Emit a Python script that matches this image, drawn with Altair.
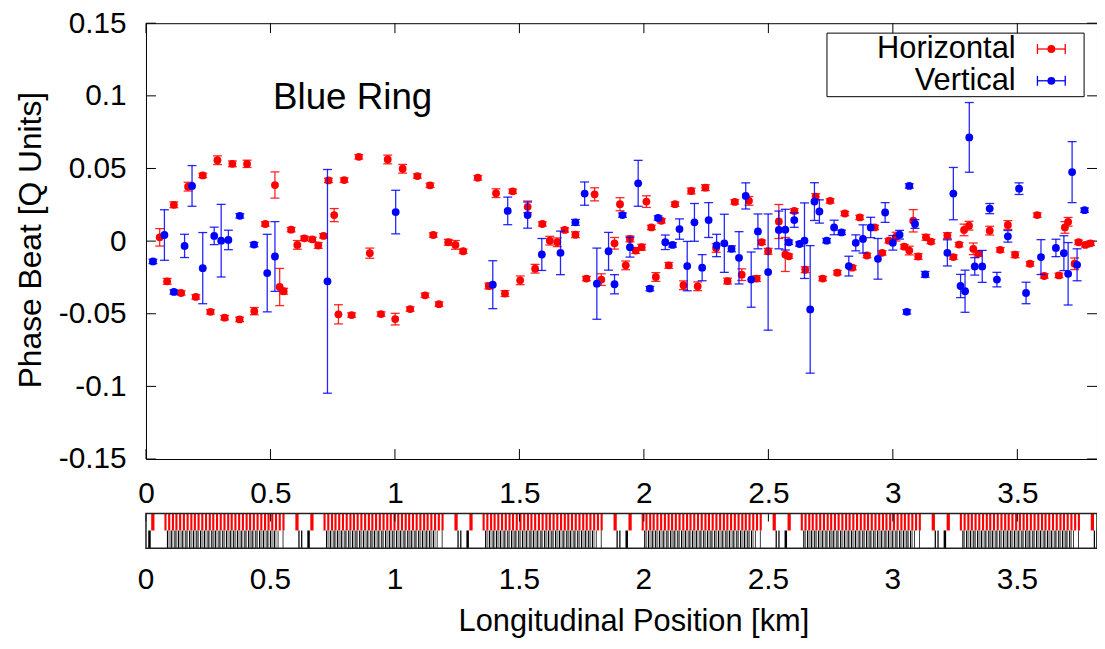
import altair as alt
import pandas as pd

# ---------------- data ----------------
h_x = [0.055, 0.085, 0.112, 0.141, 0.169, 0.200, 0.228, 0.259, 0.287, 0.316,
       0.347, 0.376, 0.406, 0.435, 0.479, 0.518, 0.537, 0.553, 0.583, 0.608,
       0.636, 0.668, 0.692, 0.713, 0.733, 0.756, 0.773, 0.796, 0.826, 0.855,
       0.899, 0.944, 0.971, 1.001, 1.031, 1.061, 1.090, 1.121, 1.141, 1.154,
       1.177, 1.214, 1.243, 1.274, 1.333, 1.377, 1.406, 1.442, 1.473, 1.503,
       1.533, 1.563, 1.592, 1.622, 1.652, 1.682, 1.725, 1.769, 1.802, 1.829,
       1.882, 1.904, 1.927, 1.944, 1.967, 1.991, 2.010, 2.030, 2.048, 2.070,
       2.100, 2.125, 2.159, 2.190, 2.216, 2.247, 2.290, 2.336, 2.365, 2.393,
       2.422, 2.453, 2.473, 2.499, 2.542, 2.568, 2.582, 2.604, 2.648, 2.690,
       2.718, 2.748, 2.777, 2.807, 2.837, 2.867, 2.896, 2.927, 2.957, 2.984,
       3.013, 3.046, 3.066, 3.082, 3.102, 3.133, 3.153, 3.219, 3.243, 3.266,
       3.286, 3.306, 3.323, 3.343, 3.389, 3.431, 3.462, 3.491, 3.551, 3.580,
       3.608, 3.667, 3.691, 3.704, 3.730, 3.746, 3.773, 3.794]
h_y = [0.0026, -0.0277, 0.025, -0.0357, 0.0375, -0.0384, 0.0452, -0.0487, 0.0557, -0.0527,
       0.0532, -0.0539, 0.0532, -0.0482, 0.0118, 0.0386, -0.0316, -0.0345, 0.0079, -0.0026,
       0.0019, 0.0012, -0.003, 0.0036, 0.0418, 0.0179, -0.0504, 0.042, -0.0509, 0.058,
       -0.0083, -0.0502, 0.0562, -0.0537, 0.0498, -0.0468, 0.0448, -0.0373, 0.0384, 0.0042,
       -0.0434, -0.0008, -0.0026, -0.007, 0.0436, -0.0309, 0.033, -0.0361, 0.0343, -0.027,
       0.0236, -0.019, 0.0118, 0.0003, -0.0008, 0.0077, 0.0044, -0.0258, 0.0322, -0.0265,
       -0.0015, 0.0254, -0.0167, 0.0015, -0.0065, -0.0042, 0.0272, 0.0094, -0.0247, 0.014,
       -0.0167, 0.0254, -0.0304, 0.0345, -0.0311, 0.0368, -0.0047, -0.0275, 0.027, -0.0231,
       0.0277, -0.0258, -0.0008, -0.007, 0.0135, -0.0092, -0.0104, 0.0208, -0.0197, 0.0306,
       -0.0258, 0.0277, -0.0217, 0.019, -0.0183, 0.0163, -0.0099, 0.0094, -0.0081, 0.0003,
       0.0031, -0.0038, -0.0065, 0.014, -0.0106, 0.0026, -0.0003, 0.0038, -0.011, -0.0024,
       0.0077, 0.0106, -0.0053, -0.0088, 0.0072, -0.006, 0.0111, -0.0094, -0.0156, 0.0179,
       -0.024, -0.0236, 0.0094, 0.0133, -0.0156, -0.0008, -0.0026, -0.0015]
h_err = [0.006, 0.002, 0.002, 0.0015, 0.003, 0.0015, 0.0015, 0.0015, 0.003, 0.0015,
         0.002, 0.0015, 0.0025, 0.0025, 0.0015, 0.009, 0.0128, 0.002, 0.0015, 0.003,
         0.0015, 0.0015, 0.002, 0.0015, 0.0015, 0.0045, 0.0066, 0.0015, 0.0015, 0.0015,
         0.0035, 0.0015, 0.003, 0.004, 0.003, 0.0015, 0.0015, 0.0015, 0.0015, 0.0015,
         0.0015, 0.002, 0.003, 0.0015, 0.0015, 0.002, 0.003, 0.002, 0.0015, 0.003,
         0.004, 0.003, 0.0015, 0.003, 0.003, 0.0015, 0.002, 0.0015, 0.0045, 0.004,
         0.004, 0.0045, 0.003, 0.002, 0.002, 0.002, 0.004, 0.0015, 0.003, 0.0015,
         0.002, 0.0015, 0.003, 0.002, 0.003, 0.002, 0.003, 0.002, 0.0015, 0.004,
         0.003, 0.002, 0.0015, 0.002, 0.0117, 0.0117, 0.0015, 0.0015, 0.002, 0.002,
         0.0015, 0.0015, 0.0015, 0.0015, 0.0015, 0.0015, 0.0015, 0.0015, 0.0015, 0.0015,
         0.003, 0.0015, 0.003, 0.0077, 0.002, 0.002, 0.0015, 0.002, 0.0015, 0.0015,
         0.004, 0.003, 0.004, 0.0015, 0.003, 0.0015, 0.003, 0.002, 0.0015, 0.0015,
         0.0015, 0.0015, 0.004, 0.003, 0.004, 0.0015, 0.0015, 0.0015]

v_x = [0.028, 0.074, 0.112, 0.155, 0.185, 0.228, 0.274, 0.302, 0.331, 0.377,
       0.434, 0.487, 0.518, 0.729, 1.003, 1.393, 1.453, 1.533, 1.590, 1.665,
       1.725, 1.762, 1.811, 1.858, 1.882, 1.914, 1.944, 1.977, 2.024, 2.057,
       2.086, 2.115, 2.143, 2.174, 2.203, 2.234, 2.260, 2.292, 2.323, 2.352,
       2.382, 2.409, 2.431, 2.458, 2.499, 2.542, 2.568, 2.582, 2.604, 2.625,
       2.645, 2.668, 2.685, 2.705, 2.734, 2.764, 2.794, 2.823, 2.851, 2.880,
       2.911, 2.940, 2.969, 3.000, 3.027, 3.056, 3.066, 3.089, 3.130, 3.219,
       3.243, 3.272, 3.290, 3.307, 3.329, 3.359, 3.389, 3.418, 3.462, 3.507,
       3.535, 3.595, 3.655, 3.687, 3.704, 3.720, 3.740, 3.770]
v_y = [-0.014, 0.0042, -0.035, -0.0033, 0.038, -0.0186, 0.0036, 0.0003, 0.0008, 0.0174,
       -0.0024, -0.022, -0.0106, -0.0277, 0.02, -0.03, 0.0208, 0.0179, -0.0092, -0.0081,
       0.0129, 0.0327, -0.0293, -0.007, -0.0297, 0.0179, -0.0042, 0.0398, -0.0327, 0.0159,
       -0.0008, -0.0026, 0.0083, -0.0172, 0.0129, -0.0183, 0.0145, -0.003, -0.0015, -0.0053,
       -0.0115, 0.0311, -0.0265, 0.0067, -0.0213, 0.0077, 0.0079, -0.0008, 0.0145, -0.002,
       0.0003, -0.047, 0.0272, 0.0204, 0.0003, 0.0094, 0.006, -0.0172, -0.0012, 0.0015,
       0.0094, -0.0122, 0.0197, -0.0012, 0.0044, -0.0487, 0.038, 0.0118, -0.0229, -0.0081,
       0.0327, -0.0309, -0.0345, 0.0714, -0.0174, -0.0174, 0.0224, -0.0265, 0.0033, 0.0361,
       -0.0357, -0.011, -0.0047, -0.0083, -0.0225, 0.0475, -0.0163, 0.0213]
v_err = [0.0015, 0.0174, 0.0015, 0.008, 0.014, 0.0245, 0.006, 0.025, 0.0067, 0.0015,
         0.0015, 0.0267, 0.024, 0.077, 0.015, 0.0165, 0.0095, 0.009, 0.011, 0.015,
         0.002, 0.008, 0.0245, 0.013, 0.0066, 0.0015, 0.0068, 0.0158, 0.0015, 0.0015,
         0.005, 0.0015, 0.007, 0.017, 0.013, 0.009, 0.012, 0.0077, 0.02, 0.002,
         0.018, 0.009, 0.019, 0.012, 0.04, 0.013, 0.014, 0.0015, 0.005, 0.0015,
         0.026, 0.0439, 0.013, 0.008, 0.0015, 0.005, 0.0015, 0.0068, 0.0055, 0.0097,
         0.007, 0.014, 0.0068, 0.005, 0.003, 0.0015, 0.0015, 0.003, 0.002, 0.009,
         0.018, 0.008, 0.0145, 0.024, 0.006, 0.011, 0.0035, 0.005, 0.004, 0.004,
         0.0074, 0.012, 0.006, 0.012, 0.0215, 0.021, 0.011, 0.0015]

x_ticks = [0, 0.5, 1, 1.5, 2, 2.5, 3, 3.5]
y_ticks = [-0.15, -0.1, -0.05, 0, 0.05, 0.1, 0.15]
series_names = ["Horizontal", "Vertical"]
series_colors = ["#ff0000", "#0000ff"]
ring_label = "Blue Ring"
x_title = "Longitudinal Position [km]"
y_title = "Phase Beat [Q Units]"

# lattice strip (km)
ring_length = 3.834
sector_starts = [0.074, 0.713, 1.352, 1.991, 2.630, 3.269]
dipole_offsets = [0.000, 0.015, 0.030, 0.044, 0.059, 0.074, 0.089, 0.104, 0.118, 0.133,
                  0.148, 0.163, 0.178, 0.192, 0.207, 0.222, 0.237, 0.252, 0.266, 0.281,
                  0.296, 0.311, 0.326, 0.340, 0.355, 0.370, 0.385, 0.400, 0.414, 0.429,
                  0.444, 0.459, 0.474]
dipole_length = 0.0085
insertion_dipole_offsets = [0.526, 0.586]
insertion_dipole_length = 0.013
quad_offsets = [0.010, 0.025, 0.040, 0.054, 0.069, 0.084, 0.099, 0.114, 0.128, 0.143,
                0.158, 0.173, 0.188, 0.202, 0.217, 0.232, 0.247, 0.262, 0.276, 0.291,
                0.306, 0.321, 0.336, 0.350, 0.365, 0.380, 0.395, 0.410, 0.424, 0.439]
quad_length = 0.005
corrector_offsets = [0.017, 0.032, 0.047, 0.061, 0.076, 0.091, 0.106, 0.121, 0.135, 0.150,
                     0.165, 0.180, 0.195, 0.209, 0.224, 0.239, 0.254, 0.269, 0.283, 0.298,
                     0.313, 0.328, 0.343, 0.357, 0.372, 0.387, 0.402, 0.417, 0.431, 0.446]
corrector_length = 0.004
insertion_quad_offsets = [0.455, 0.475, 0.538, 0.549, 0.574]
insertion_quad_lengths = [0.003, 0.003, 0.005, 0.005, 0.010]

# ---------------- tables ----------------
def series_df(xv, yv, ev):
    assert len(xv) == len(yv) == len(ev)
    return pd.DataFrame({"s": xv, "q": yv,
                         "lo": [a - b for a, b in zip(yv, ev)],
                         "hi": [a + b for a, b in zip(yv, ev)]})

def elements(offsets, lengths):
    rows = []
    for st in sector_starts:
        for off, ln in zip(offsets, lengths):
            a = (st + off) % ring_length
            rows.append({"a": a, "b": a + ln})
    return pd.DataFrame(rows)

df_h = series_df(h_x, h_y, h_err)
df_v = series_df(v_x, v_y, v_err)
df_dip = elements(dipole_offsets, [dipole_length] * len(dipole_offsets))
df_idip = elements(insertion_dipole_offsets, [insertion_dipole_length] * 2)
df_quad = elements(quad_offsets, [quad_length] * len(quad_offsets))
df_corr = elements(corrector_offsets, [corrector_length] * len(corrector_offsets))
df_iquad = elements(insertion_quad_offsets, insertion_quad_lengths)
df_xt = pd.DataFrame({"t": x_ticks, "lab": [f"{v:g}" for v in x_ticks]})
df_yt = pd.DataFrame({"u": y_ticks})

# ---------------- layout ----------------
W, H = 958, 439
X_MAX = 3.82
FONT = "Liberation Sans"
TICK_FS = 30
xs = alt.Scale(domain=[0, X_MAX], nice=False, zero=False)
ys = alt.Scale(domain=[-0.15, 0.15], nice=False, zero=False)

x_axis = alt.Axis(values=x_ticks, labelExpr="'' + datum.value", ticks=False, tickSize=0,
                  domain=False, grid=False, labelFontSize=TICK_FS, labelPadding=20,
                  labelFlush=False, labelOverlap=False, labelColor="black",
                  title=x_title, titleFontSize=31, titleFontWeight="normal",
                  titleColor="black", titleX=491, titleY=164, titleBaseline="middle",
                  titleAlign="center")
y_axis = alt.Axis(values=y_ticks, labelExpr="'' + datum.value", ticks=False, tickSize=0,
                  domain=False, grid=False, labelFontSize=TICK_FS, labelPadding=20,
                  labelFlush=False, labelOverlap=False, labelColor="black",
                  title=y_title, titleFontSize=32, titleFontWeight="normal",
                  titleColor="black", titleAngle=270, titleX=-116, titleY=218,
                  titleBaseline="middle", titleAlign="center")

def X(field):
    return alt.X(field, type="quantitative", scale=xs, axis=x_axis)

def Y(field):
    return alt.Y(field, type="quantitative", scale=ys, axis=y_axis)

layers = []

# inward ticks of the main frame
layers.append(alt.Chart(df_xt).mark_rule(color="black", strokeWidth=1).encode(
    x=X("t"), y=alt.value(H), y2=alt.value(H - 10)))
layers.append(alt.Chart(df_xt).mark_rule(color="black", strokeWidth=1).encode(
    x=X("t"), y=alt.value(0), y2=alt.value(10)))
layers.append(alt.Chart(df_yt).mark_rule(color="black", strokeWidth=1).encode(
    y=Y("u"), x=alt.value(0), x2=alt.value(10)))
layers.append(alt.Chart(df_yt).mark_rule(color="black", strokeWidth=1).encode(
    y=Y("u"), x=alt.value(W), x2=alt.value(W - 10)))

# data series with error bars
for df, col in [(df_h, series_colors[0]), (df_v, series_colors[1])]:
    layers.append(alt.Chart(df).mark_rule(color=col, strokeWidth=1.3, opacity=0.85).encode(
        x=X("s"), y=Y("lo"), y2="hi"))
    layers.append(alt.Chart(df).mark_tick(color=col, orient="horizontal", size=9,
                                          thickness=1.3, opacity=0.85).encode(x=X("s"), y=Y("lo")))
    layers.append(alt.Chart(df).mark_tick(color=col, orient="horizontal", size=9,
                                          thickness=1.3, opacity=0.85).encode(x=X("s"), y=Y("hi")))
    layers.append(alt.Chart(df).mark_point(shape="circle", filled=True, size=62,
                                           color=col, opacity=1).encode(x=X("s"), y=Y("q")))

# ring label
layers.append(alt.Chart().mark_text(align="left", baseline="middle", fontSize=37,
                                    font=FONT, color="black").encode(
    x=alt.value(128), y=alt.value(75), text=alt.value(ring_label)))

# legend box
LX0, LX1, LY0, LY1 = 686, 945, 10, 74
layers.append(alt.Chart().mark_rect(fill="white", stroke="black", strokeWidth=1).encode(
    x=alt.value(LX0), x2=alt.value(LX1), y=alt.value(LY0), y2=alt.value(LY1)))
for i, (name, col) in enumerate(zip(series_names, series_colors)):
    yy = 26 + 32 * i
    layers.append(alt.Chart().mark_text(align="right", baseline="middle", fontSize=31,
                                        font=FONT, color="black").encode(
        x=alt.value(876), y=alt.value(yy), text=alt.value(name)))
    layers.append(alt.Chart().mark_rule(color=col, strokeWidth=1.3).encode(
        x=alt.value(898), x2=alt.value(926), y=alt.value(yy)))
    layers.append(alt.Chart().mark_rule(color=col, strokeWidth=1.3).encode(
        x=alt.value(898), y=alt.value(yy - 5), y2=alt.value(yy + 5)))
    layers.append(alt.Chart().mark_rule(color=col, strokeWidth=1.3).encode(
        x=alt.value(926), y=alt.value(yy - 5), y2=alt.value(yy + 5)))
    layers.append(alt.Chart().mark_point(shape="circle", filled=True, size=62, color=col,
                                         opacity=1).encode(x=alt.value(912), y=alt.value(yy)))

# lattice strip below the plot
S0, SM, S1 = 494, 511, 529
layers.append(alt.Chart(df_dip).mark_rect(color="#ff0000").encode(
    x=X("a"), x2="b", y=alt.value(S0), y2=alt.value(SM)))
layers.append(alt.Chart(df_idip).mark_rect(color="#ff0000").encode(
    x=X("a"), x2="b", y=alt.value(S0), y2=alt.value(SM)))
layers.append(alt.Chart(df_corr).mark_rect(color="#707070").encode(
    x=X("a"), x2="b", y=alt.value(SM), y2=alt.value(S1)))
layers.append(alt.Chart(df_quad).mark_rect(color="#000000").encode(
    x=X("a"), x2="b", y=alt.value(SM), y2=alt.value(S1)))
layers.append(alt.Chart(df_iquad).mark_rect(color="#000000").encode(
    x=X("a"), x2="b", y=alt.value(SM), y2=alt.value(S1)))
layers.append(alt.Chart(df_xt).mark_rule(color="black", strokeWidth=1).encode(
    x=X("t"), y=alt.value(S0), y2=alt.value(S0 + 8)))
layers.append(alt.Chart().mark_rect(filled=False, stroke="#222222", strokeWidth=1.5).encode(
    x=alt.value(0), x2=alt.value(W), y=alt.value(S0), y2=alt.value(S1)))
# labels under the strip
layers.append(alt.Chart(df_xt).mark_text(align="center", baseline="middle", fontSize=TICK_FS,
                                         font=FONT, color="black").encode(
    x=X("t"), y=alt.value(561), text="lab:N"))

chart = alt.layer(*layers).properties(
    width=W, height=H,
    autosize=alt.AutoSizeParams(type="none"),
    padding={"left": 139, "top": 13, "right": 0, "bottom": 181},
    background="white",
).configure(font=FONT).configure_view(stroke="black", strokeWidth=1)

chart.save("out.html", embed_options={"renderer": "svg", "actions": False})
